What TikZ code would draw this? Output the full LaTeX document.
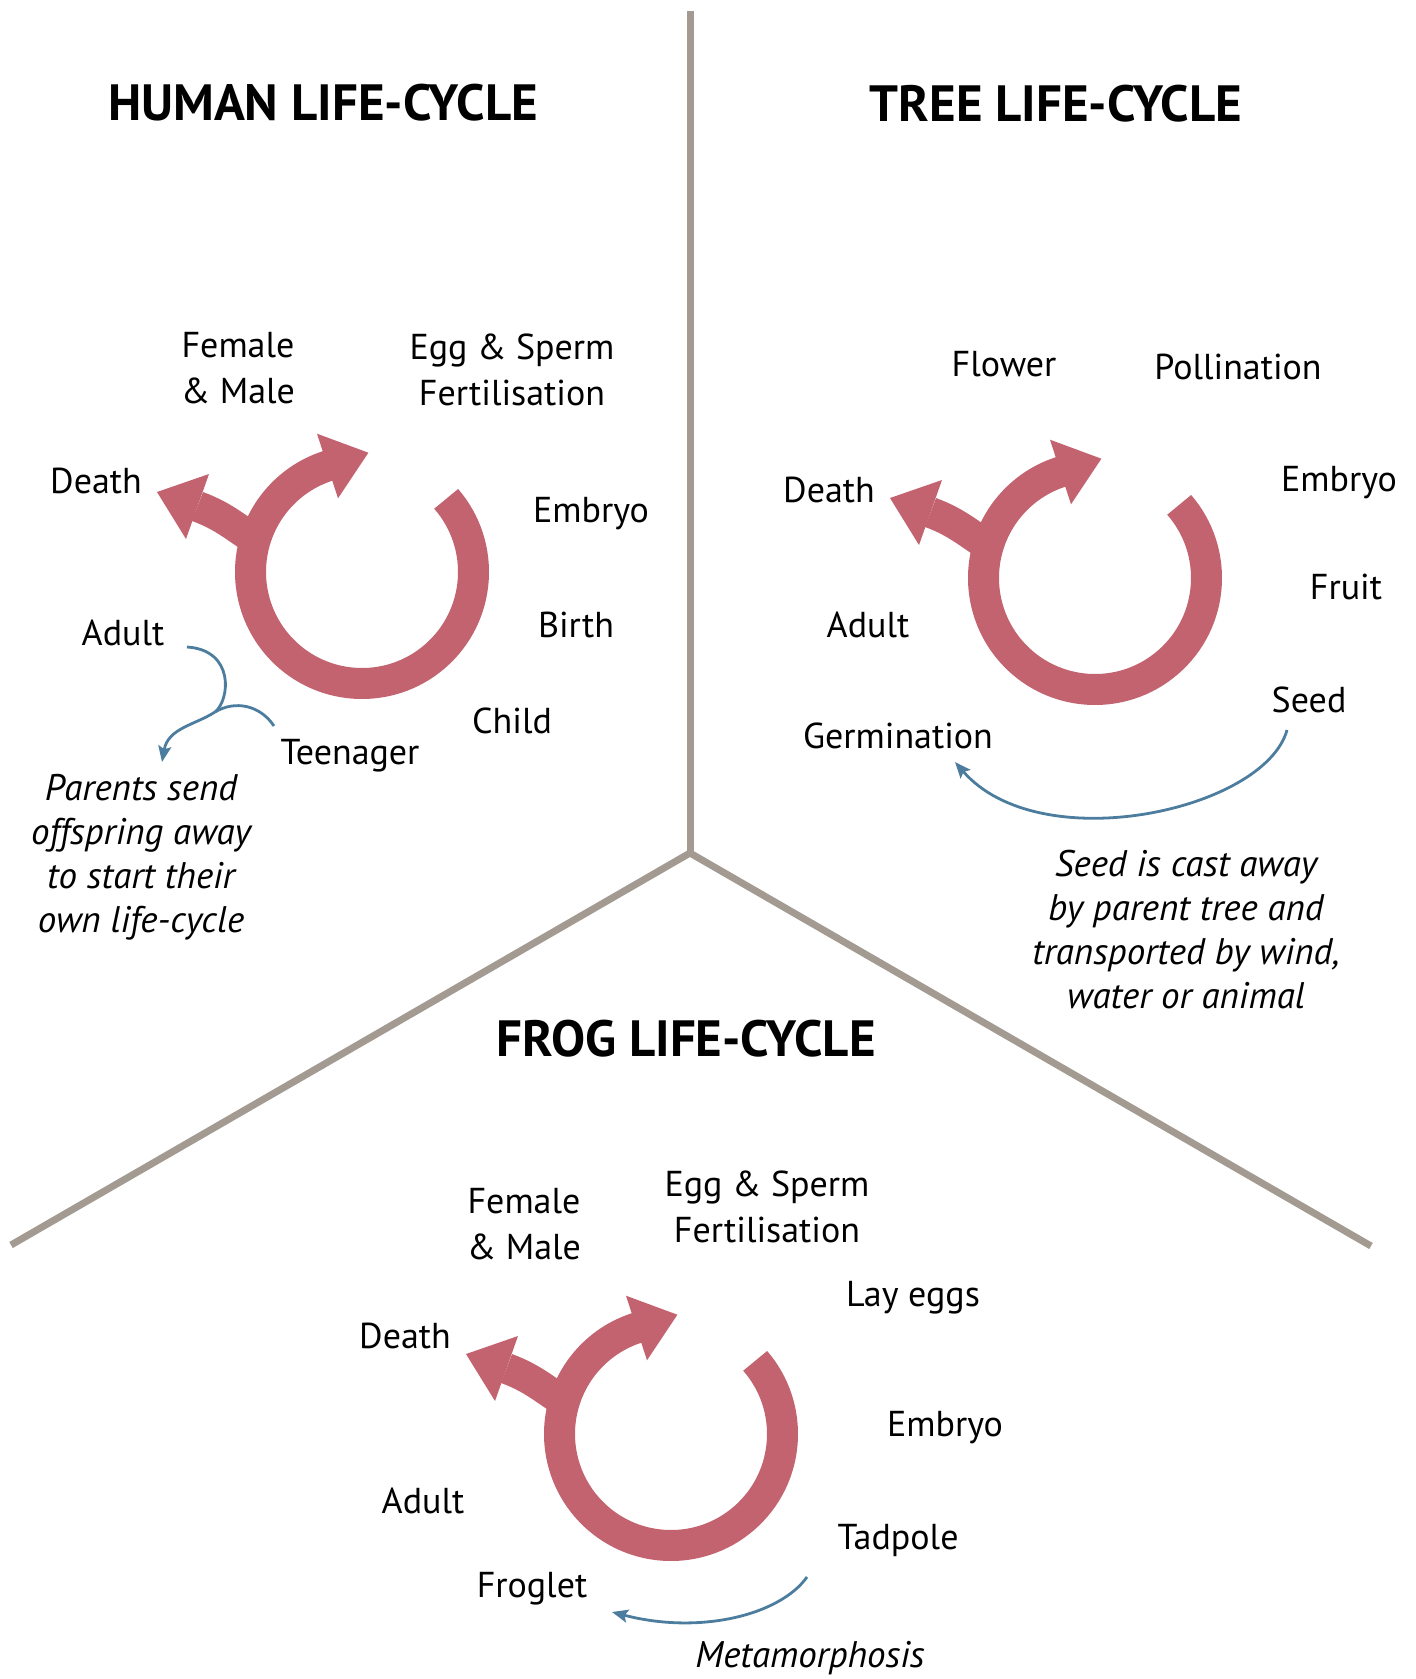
\documentclass[tikz,border=0pt]{standalone}
\usepackage{fontspec}
\setmainfont{PT Sans}
\usetikzlibrary{arrows.meta}
\definecolor{ringpink}{HTML}{C2636F}
\definecolor{flowblue}{HTML}{4C7D9E}
\definecolor{divgray}{HTML}{A39B92}
\tikzset{
  divider/.style={line width=7pt,divgray},
  ringline/.style={line width=31pt,ringpink},
  flowline/.style={line width=2.8pt,flowblue},
  flow/.style={flowline,-{Stealth[length=16pt,width=13pt,inset=3pt]}},
  lbl/.style={font=\fontsize{36}{46}\selectfont,align=center,inner sep=0pt},
  note/.style={font=\fontsize{37}{44}\selectfont\itshape,align=center,inner sep=0pt},
  ttl/.style={font=\fontsize{51}{60}\selectfont\bfseries,inner sep=0pt}
}
\newcommand{\lifecycle}[1]{%
  \begin{scope}[shift={#1},yscale=-1]
    \draw[ringline] (41:111.5) arc[start angle=41,end angle=-253,radius=111.5];
    \fill[ringpink] (-45,138.3) -- (6.4,119.3) -- (-24,73.7) -- cycle;
    \draw[ringline] (165:100) .. controls (-123.4,41.4) and (-135.4,54.9) .. (-164.5,65.5);
    \fill[ringpink] (-153,98) -- (-205,80) -- (-176,33) -- cycle;
  \end{scope}}

\begin{document}
\begin{tikzpicture}[x=1pt,y=-1pt]
\useasboundingbox (0,0) rectangle (1416,1679);
\coordinate (hub) at (690,853);
\draw[divider] (690,11) -- (hub);
\draw[divider] (11,1245) -- (hub) -- (1371,1246);

% human
\node[ttl] (hTitle) at (323,103) {HUMAN LIFE-CYCLE};
\lifecycle{(362,572)}
\node[lbl] (hFemale) at (238,368) {Female\\\& Male};
\node[lbl] (hEgg) at (512,370) {Egg \& Sperm\\Fertilisation};
\node[lbl] (hDeath) at (96,481) {Death};
\node[lbl] (hEmbryo) at (591,514) {Embryo};
\node[lbl] (hBirth) at (576,625) {Birth};
\node[lbl] (hChild) at (512,721) {Child};
\node[lbl] (hTeen) at (350,756) {Teenager};
\node[lbl] (hAdult) at (123,633) {Adult};
\node[note] (hNote) at (141,857) {Parents send\\offspring away\\to start their\\own life-cycle};
\coordinate (hAdultOut) at (187,647);
\coordinate (hTeenOut) at (274,726);
\coordinate (hJoin) at (215,712);
\coordinate (hNoteIn) at (162,762);
\draw[flowline] (hAdultOut) .. controls (235,650) and (230,700) .. (hJoin);
\draw[flowline] (hTeenOut) .. controls (260,705) and (235,700) .. (hJoin);
\draw[flow] (hJoin) .. controls (195,725) and (168,728) .. (hNoteIn);

% tree
\node[ttl] (tTitle) at (1056,104) {TREE LIFE-CYCLE};
\lifecycle{(1095,578)}
\node[lbl] (tFlower) at (1004,364) {Flower};
\node[lbl] (tPollen) at (1238,367) {Pollination};
\node[lbl] (tEmbryo) at (1339,483) {Embryo};
\node[lbl] (tFruit) at (1346,587) {Fruit};
\node[lbl] (tSeed) at (1309,700) {Seed};
\node[lbl] (tDeath) at (829,490) {Death};
\node[lbl] (tAdult) at (868,625) {Adult};
\node[lbl] (tGerm) at (898,736) {Germination};
\node[note] (tNote) at (1186,930) {Seed is cast away\\by parent tree and\\transported by wind,\\water or animal};
\coordinate (tSeedOut) at (1287,730);
\coordinate (tGermIn) at (955,762);
\draw[flow] (tSeedOut) .. controls (1265,810) and (1040,860) .. (tGermIn);

% frog
\node[ttl] (fTitle) at (686,1039) {FROG LIFE-CYCLE};
\lifecycle{(671,1434)}
\node[lbl] (fFemale) at (524,1224) {Female\\\& Male};
\node[lbl] (fEgg) at (767,1207) {Egg \& Sperm\\Fertilisation};
\node[lbl] (fLay) at (913,1298) {Lay eggs};
\node[lbl] (fDeath) at (405,1336) {Death};
\node[lbl] (fEmbryo) at (945,1428) {Embryo};
\node[lbl] (fAdult) at (423,1501) {Adult};
\node[lbl] (fTadpole) at (898,1540) {Tadpole};
\node[lbl] (fFroglet) at (532,1589) {Froglet};
\node[note] (fMeta) at (810,1658) {Metamorphosis};
\coordinate (fTadOut) at (807,1577);
\coordinate (fFrogIn) at (612,1612);
\draw[flow] (fTadOut) .. controls (780,1615) and (700,1635) .. (fFrogIn);
\end{tikzpicture}
\end{document}
